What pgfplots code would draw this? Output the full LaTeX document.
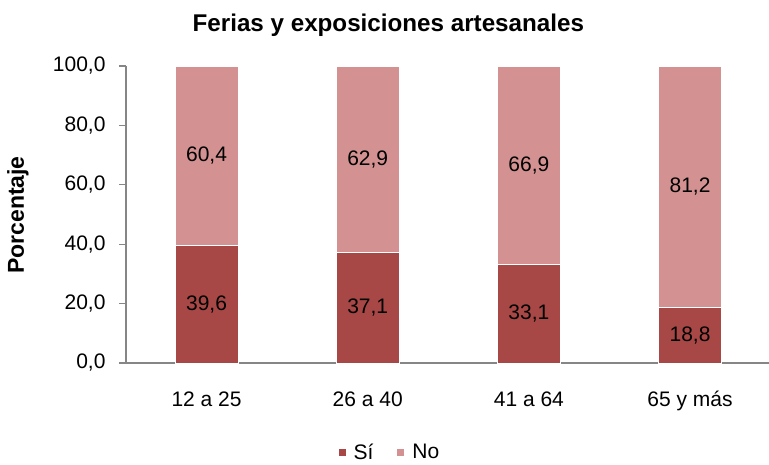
\documentclass[border=0pt]{standalone}
\usepackage{pgfplots}
\pgfplotsset{compat=1.18}
\usepackage{fontspec}
\setmainfont{Liberation Sans}
\definecolor{si}{HTML}{A84846}
\definecolor{no}{HTML}{D39291}
\definecolor{axgray}{HTML}{868686}
\begin{document}
\begin{tikzpicture}[x=1pt,y=1pt]
\path[use as bounding box] (0,0) rectangle (769,464);
\begin{axis}[
  scale only axis,
  width=643pt, height=297pt,
  at={(126pt,101pt)}, anchor=south west,
  ybar stacked,
  bar width=63pt,
  xmin=-0.5, xmax=3.49,
  ymin=0, ymax=100,
  axis x line=bottom, axis y line=left,
  axis line style={axgray, line width=1.2pt, -},
  xtick={0,1,2,3},
  xticklabels={12 a 25, 26 a 40, 41 a 64, 65 y más},
  x tick style={draw=none},
  extra x ticks={0.5,1.5,2.5},
  extra x tick labels={},
  extra x tick style={tick style={axgray, line width=1.2pt, draw=axgray}},
  ytick={0,20,40,60,80,100},
  y tick style={axgray, line width=1.2pt},
  major tick length=7pt,
  tick align=outside,
  /pgf/number format/assume math mode=true,
  ticklabel style={font=\fontsize{21}{25}\selectfont, text=black},
  yticklabel style={/pgf/number format/fixed, /pgf/number format/fixed zerofill, /pgf/number format/precision=1, /pgf/number format/use comma, xshift=-10pt},
  xticklabel style={anchor=base, yshift=-36pt},
  ylabel={\bfseries Porcentaje},
  every axis y label/.style={at={(rel axis cs:-0.168,0.498)}, rotate=90, anchor=center, font=\fontsize{23}{28}\selectfont},
  title={\bfseries Ferias y exposiciones artesanales},
  every axis title/.style={at={(rel axis cs:0.408,1.138)}, anchor=center, font=\fontsize{24.2}{28}\selectfont},
  nodes near coords,
  nodes near coords style={font=\fontsize{21}{25}\selectfont, text=black, /pgf/number format/fixed, /pgf/number format/fixed zerofill, /pgf/number format/precision=1, /pgf/number format/use comma},
  every node near coord/.append style={anchor=center},
  nodes near coords align={center},
  legend style={at={(rel axis cs:0.408,-0.30)}, anchor=center, draw=none, legend columns=-1, font=\fontsize{21}{25}\selectfont,
    inner sep=0pt, nodes={inner xsep=0pt},
    /tikz/every even column/.append style={column sep=23pt},
    /tikz/every odd column/.append style={column sep=7pt}},
  legend image code/.code={\fill[#1] (0pt,-4pt) rectangle (8pt,4pt);},
  clip=false,
]
\addplot+[fill=si, draw=white, line width=1pt] coordinates {(0,39.6) (1,37.1) (2,33.1) (3,18.8)};
\addplot+[fill=no, draw=white, line width=1pt] coordinates {(0,60.4) (1,62.9) (2,66.9) (3,81.2)};
\legend{Sí, No}
\end{axis}
\end{tikzpicture}
\end{document}
